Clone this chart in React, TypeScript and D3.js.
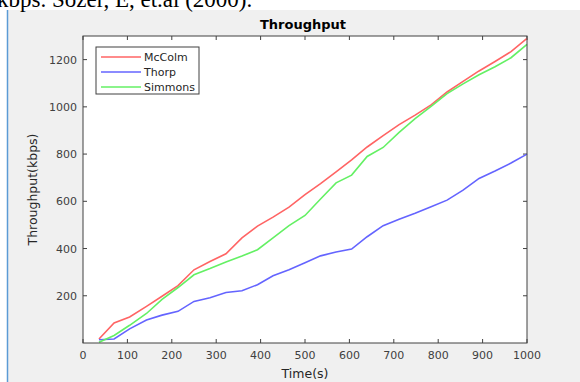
import React from "react";
import * as d3 from "d3";

const times = [36, 70, 105, 143, 178, 214, 250, 286, 322, 358, 393, 428, 464, 500, 535, 570, 605, 640, 676, 712, 748, 784, 820, 856, 892, 928, 964, 1000];
const mccolm = [17, 85, 110, 155, 198, 243, 310, 345, 378, 445, 495, 533, 575, 628, 675, 725, 775, 830, 878, 925, 965, 1008, 1063, 1108, 1152, 1192, 1234, 1290];
const thorp = [14, 17, 60, 97, 118, 134, 176, 192, 214, 221, 247, 285, 310, 340, 369, 385, 398, 450, 497, 524, 549, 577, 605, 647, 697, 728, 762, 800];
const simmons = [3, 32, 75, 125, 185, 235, 289, 315, 343, 368, 395, 445, 497, 540, 610, 678, 711, 790, 828, 892, 950, 1002, 1056, 1097, 1136, 1170, 1208, 1265];

const seriesNames = ["McColm", "Thorp", "Simmons"];
const seriesValues = [mccolm, thorp, simmons];
const seriesColors = ["#ff6464", "#6464ff", "#64f064"];

const xTicks = [0, 100, 200, 300, 400, 500, 600, 700, 800, 900, 1000];
const yTicks = [200, 400, 600, 800, 1000, 1200];

const W = 580;
const H = 382;
const plot = { left: 83, right: 527, top: 36, bottom: 343 };
const font = "'DejaVu Sans', Verdana, sans-serif";

export default function App() {
  const x = d3.scaleLinear().domain([0, 1000]).range([plot.left, plot.right]);
  const y = d3.scaleLinear().domain([0, 1300]).range([plot.bottom, plot.top]);
  const line = d3
    .line<[number, number]>()
    .x((d) => x(d[0]))
    .y((d) => y(d[1]));

  const axisColor = "#404040";
  const tickLen = 4;

  return (
    <div style={{ position: "absolute", left: 0, top: 0, width: W, height: H, background: "#fff" }}>
      <svg width={W} height={H} style={{ display: "block" }}>
        {/* figure background */}
        <rect x={8} y={10} width={W - 8} height={H - 10} fill="#f0f0f0" />
        <line x1={7.5} x2={7.5} y1={10} y2={H} stroke="#5b9bd5" strokeWidth={1.5} />
        <text x={-3} y={7} fontFamily="'Liberation Serif', 'Times New Roman', serif" fontSize={23} fill="#000">
          kbps. Sozer, E, et.al (2000).
        </text>

        {/* axes area */}
        <rect x={plot.left} y={plot.top} width={plot.right - plot.left} height={plot.bottom - plot.top} fill="#fff" />

        {/* ticks */}
        {xTicks.map((t) => (
          <g key={"xt" + t}>
            <line x1={x(t)} x2={x(t)} y1={plot.bottom} y2={plot.bottom - tickLen} stroke={axisColor} />
            <line x1={x(t)} x2={x(t)} y1={plot.top} y2={plot.top + tickLen} stroke={axisColor} />
            <text x={x(t)} y={359} textAnchor="middle" fontFamily={font} fontSize={11} fill={axisColor}>
              {t}
            </text>
          </g>
        ))}
        {yTicks.map((t) => (
          <g key={"yt" + t}>
            <line x1={plot.left} x2={plot.left + tickLen} y1={y(t)} y2={y(t)} stroke={axisColor} />
            <line x1={plot.right} x2={plot.right - tickLen} y1={y(t)} y2={y(t)} stroke={axisColor} />
            <text x={77} y={y(t) + 4} textAnchor="end" fontFamily={font} fontSize={11} fill={axisColor}>
              {t}
            </text>
          </g>
        ))}

        {/* series */}
        {seriesValues.map((vals, i) => (
          <path
            key={seriesNames[i]}
            d={line(times.map((t, j) => [t, vals[j]]) as [number, number][]) || ""}
            fill="none"
            stroke={seriesColors[i]}
            strokeWidth={1.6}
          />
        ))}

        {/* box */}
        <rect
          x={plot.left}
          y={plot.top}
          width={plot.right - plot.left}
          height={plot.bottom - plot.top}
          fill="none"
          stroke={axisColor}
          strokeWidth={1}
        />

        {/* legend */}
        <rect x={96} y={47} width={103} height={47} fill="#fff" stroke={axisColor} strokeWidth={1} />
        {seriesNames.map((name, i) => {
          const ly = 57 + i * 15;
          return (
            <g key={"lg" + name}>
              <line x1={101} x2={141} y1={ly} y2={ly} stroke={seriesColors[i]} strokeWidth={1.6} />
              <text x={144} y={ly + 4} fontFamily={font} fontSize={11} fill="#262626">
                {name}
              </text>
            </g>
          );
        })}

        {/* labels */}
        <text x={303} y={29} textAnchor="middle" fontFamily={font} fontSize={13} fontWeight="bold" fill="#000">
          Throughput
        </text>
        <text x={305} y={378} textAnchor="middle" fontFamily={font} fontSize={12.5} fill="#262626">
          Time(s)
        </text>
        <text
          transform={`translate(37, ${(plot.top + plot.bottom) / 2}) rotate(-90)`}
          textAnchor="middle"
          fontFamily={font}
          fontSize={12.5}
          fill="#262626"
        >
          Throughput(kbps)
        </text>
      </svg>
    </div>
  );
}
